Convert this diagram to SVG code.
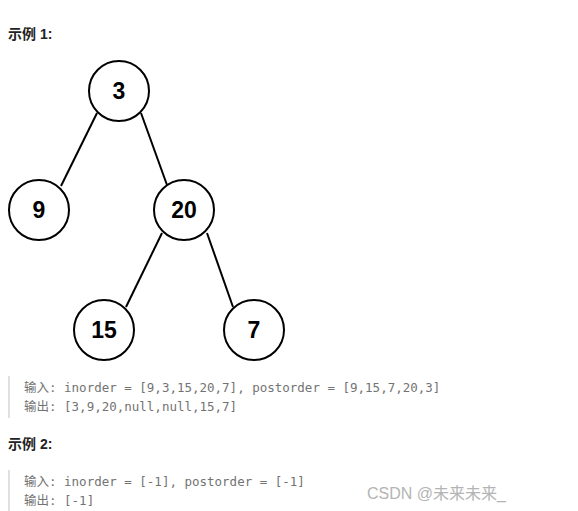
<svg xmlns="http://www.w3.org/2000/svg" width="578" height="511" viewBox="0 0 578 511">
<style>
.h{font-family:"Liberation Sans","Noto Sans CJK SC",sans-serif;font-size:14px;font-weight:bold;fill:#222}
.c{font-family:"DejaVu Sans Mono","Noto Sans CJK SC",monospace;font-size:12.5px;fill:#737373}
.n circle{fill:#fff;stroke:#000;stroke-width:2}
.n text{font-family:"Liberation Sans",Arial,sans-serif;font-size:23px;font-weight:bold;fill:#000;text-anchor:middle}
.e line{stroke:#000;stroke-width:2}
.bar{fill:#e0e0e0}
.wm{font-family:"Liberation Sans","Noto Sans CJK SC",sans-serif;font-size:16px;fill:#b4b4b4}
</style>
<rect width="578" height="511" fill="#fff"/>
<text class="h" x="8" y="39">示例 1:</text>
<g id="edges" class="e">
<line x1="97" y1="113" x2="61" y2="186"/>
<line x1="141" y1="113" x2="167" y2="185"/>
<line x1="162" y1="233" x2="126" y2="307"/>
<line x1="207" y1="233" x2="233" y2="307"/>
</g>
<g id="n3" class="n"><circle cx="119" cy="91" r="30"/><text x="119" y="99">3</text></g>
<g id="n9" class="n"><circle cx="39" cy="210" r="30"/><text x="39" y="218">9</text></g>
<g id="n20" class="n"><circle cx="184" cy="210" r="30"/><text x="184" y="218">20</text></g>
<g id="n15" class="n"><circle cx="104" cy="330" r="30"/><text x="104" y="338">15</text></g>
<g id="n7" class="n"><circle cx="254" cy="330" r="30"/><text x="254" y="338">7</text></g>
<rect class="bar" x="8" y="376" width="2" height="42"/>
<text class="c" x="24" y="392">输入: inorder = [9,3,15,20,7], postorder = [9,15,7,20,3]</text>
<text class="c" x="24" y="411">输出: [3,9,20,null,null,15,7]</text>
<text class="h" x="8" y="449">示例 2:</text>
<rect class="bar" x="8" y="470" width="2" height="41"/>
<text class="c" x="24" y="486">输入: inorder = [-1], postorder = [-1]</text>
<text class="c" x="24" y="505">输出: [-1]</text>
<text class="wm" x="367" y="499">CSDN @未来未来_</text>
</svg>
